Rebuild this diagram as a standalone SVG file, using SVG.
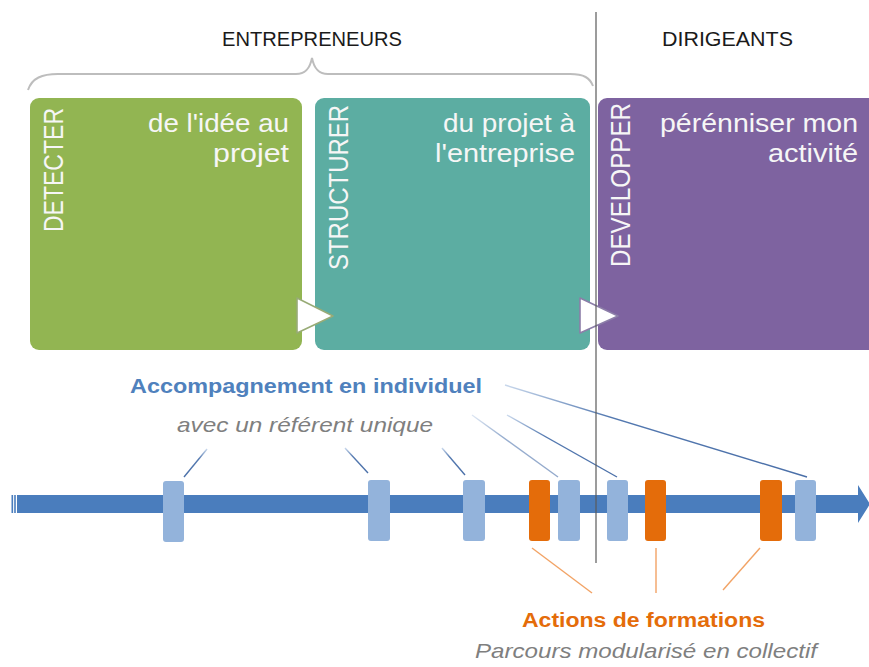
<svg xmlns="http://www.w3.org/2000/svg" width="869" height="667" viewBox="0 0 869 667">
<defs>
<style>
.hdr{font-family:"Liberation Sans",Arial,sans-serif;font-size:20px;fill:#1a1a1a}
.vt{font-family:"Liberation Sans",Arial,sans-serif;font-size:28px;fill:#f6f6f6}
.bt{font-family:"Liberation Sans",Arial,sans-serif;font-size:26px;fill:#f6f6f6;text-anchor:end}
.ind{fill:#93b3db}
.frm{fill:#e46c0a}
.bl{fill:none;stroke:url(#fade);stroke-width:1.4}
.or{fill:none;stroke:#f2a365;stroke-width:1.4}
</style>
<linearGradient id="fade" x1="0" y1="0" x2="0" y2="1">
<stop offset="0" stop-color="#c9d8ec"/>
<stop offset="0.35" stop-color="#5479b0"/>
<stop offset="1" stop-color="#4a6fa8"/>
</linearGradient>
</defs>

<g id="headers">
<text class="hdr" x="222" y="46" textLength="180" lengthAdjust="spacingAndGlyphs">ENTREPRENEURS</text>
<text class="hdr" x="662" y="46" textLength="131" lengthAdjust="spacingAndGlyphs">DIRIGEANTS</text>
<path d="M28,90 C32,78 42,74 58,74 L296,74 C306,74 310,68 312,58 C314,68 318,74 328,74 L570,74 C584,74 590,78 593,86" fill="none" stroke="#bdbdbd" stroke-width="2"/>
</g>

<g id="detecter">
<rect x="30" y="98" width="272" height="252" rx="9" fill="#92b552"/>
<text class="vt" transform="translate(63,232) rotate(-90)" textLength="124" lengthAdjust="spacingAndGlyphs">DETECTER</text>
<text class="bt" x="289" y="132" textLength="141" lengthAdjust="spacingAndGlyphs">de l'idée au</text>
<text class="bt" x="289" y="162" textLength="76" lengthAdjust="spacingAndGlyphs">projet</text>
</g>

<g id="structurer">
<rect x="315" y="98" width="275" height="252" rx="9" fill="#5cada2"/>
<text class="vt" transform="translate(348,270) rotate(-90)" textLength="165" lengthAdjust="spacingAndGlyphs">STRUCTURER</text>
<text class="bt" x="575" y="132" textLength="132" lengthAdjust="spacingAndGlyphs">du projet à</text>
<text class="bt" x="575" y="162" textLength="140" lengthAdjust="spacingAndGlyphs">l'entreprise</text>
</g>

<g id="developper">
<rect x="598" y="98" width="280" height="252" rx="9" fill="#7e63a0"/>
<text class="vt" transform="translate(630,267) rotate(-90)" textLength="164" lengthAdjust="spacingAndGlyphs">DEVELOPPER</text>
<text class="bt" x="858" y="132" textLength="198" lengthAdjust="spacingAndGlyphs">pérénniser mon</text>
<text class="bt" x="858" y="162" textLength="90" lengthAdjust="spacingAndGlyphs">activité</text>
</g>

<g id="steps">
<polygon points="297,298 333,316 297,333" fill="#ffffff" stroke="#98ab76" stroke-width="1.6" stroke-linejoin="round"/>
<polygon points="580,298 618,316 580,333" fill="#ffffff" stroke="#8c7ea8" stroke-width="1.6" stroke-linejoin="round"/>
</g>

<g id="timeline">
<rect x="11.5" y="495" width="1.6" height="18" fill="#4a7dbd"/>
<rect x="14.2" y="495" width="1.6" height="18" fill="#4a7dbd"/>
<path d="M17,495 L858,495 L858,485 L870,504 L858,523 L858,513 L17,513 Z" fill="#4a7dbd"/>
</g>

<g id="individuel">
<text x="130" y="393" font-family="Liberation Sans,Arial,sans-serif" font-size="20" font-weight="bold" fill="#4f81bd" textLength="352" lengthAdjust="spacingAndGlyphs">Accompagnement en individuel</text>
<text x="177" y="432" font-family="Liberation Sans,Arial,sans-serif" font-size="21" font-style="italic" fill="#7f7f7f" textLength="256" lengthAdjust="spacingAndGlyphs">avec un référent unique</text>
<rect class="ind" x="163" y="481" width="21" height="61" rx="3"/>
<rect class="ind" x="368" y="480" width="22" height="61" rx="3"/>
<rect class="ind" x="463" y="480" width="22" height="61" rx="3"/>
<rect class="ind" x="558" y="480" width="22" height="61" rx="3"/>
<rect class="ind" x="607" y="480" width="21" height="61" rx="3"/>
<rect class="ind" x="795" y="480" width="21" height="61" rx="3"/>
</g>

<g id="formations">
<rect class="frm" x="529" y="480" width="21" height="61" rx="3"/>
<rect class="frm" x="645" y="480" width="21" height="61" rx="3"/>
<rect class="frm" x="760" y="480" width="22" height="61" rx="3"/>
<text x="522" y="627" font-family="Liberation Sans,Arial,sans-serif" font-size="20" font-weight="bold" fill="#e46c0a" textLength="243" lengthAdjust="spacingAndGlyphs">Actions de formations</text>
<text x="475" y="658" font-family="Liberation Sans,Arial,sans-serif" font-size="21" font-style="italic" fill="#7f7f7f" textLength="342" lengthAdjust="spacingAndGlyphs">Parcours modularisé en collectif</text>
</g>

<g id="connectors">
<line class="bl" x1="207" y1="449" x2="184" y2="477"/>
<line class="bl" x1="345" y1="448" x2="368" y2="473"/>
<line class="bl" x1="442" y1="448" x2="465" y2="475"/>
<line class="bl" x1="472" y1="415" x2="558" y2="477" opacity="0.6"/>
<line class="bl" x1="507" y1="415" x2="617" y2="477"/>
<line class="bl" x1="505" y1="385" x2="807" y2="477"/>
<line class="or" x1="532" y1="548" x2="592" y2="593"/>
<line class="or" x1="656" y1="548" x2="656" y2="593"/>
<line class="or" x1="760" y1="548" x2="723" y2="590"/>
</g>

<line id="divider" x1="596" y1="12" x2="596" y2="563" stroke="#5a5a5a" stroke-width="1.2"/>
</svg>
